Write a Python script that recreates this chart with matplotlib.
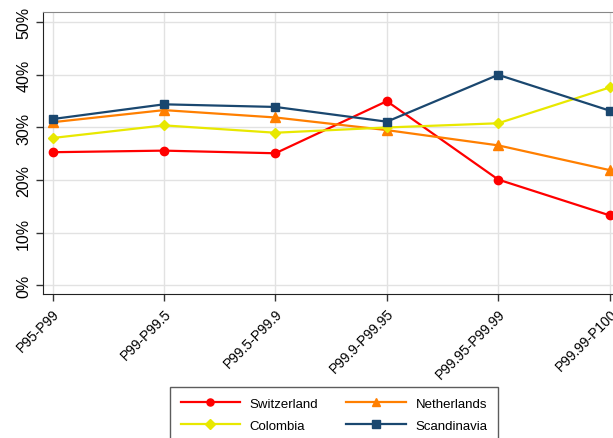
import matplotlib
matplotlib.use('Agg')
from matplotlib import pyplot as plt
from matplotlib.ticker import FuncFormatter

# top income groups
groups = ['P95-P99', 'P99-P99.5', 'P99.5-P99.9', 'P99.9-P99.95',
          'P99.95-P99.99', 'P99.99-P100']

# share (%) per country
switzerland = [25.3, 25.6, 25.1, 35.0, 20.1, 13.3]
netherlands = [31.0, 33.3, 31.9, 29.5, 26.6, 21.9]
colombia = [28.0, 30.4, 29.0, 30.0, 30.8, 37.6]
scandinavia = [31.6, 34.4, 33.9, 31.1, 40.0, 33.2]

plt.rcParams['font.family'] = ['Liberation Sans', 'DejaVu Sans']

fig = plt.figure(figsize=(6.13, 4.39), dpi=100)
ax = fig.add_axes([0.0701, 0.3273, 0.9299, 0.6438])

x = list(range(len(groups)))
l_sw, = ax.plot(x, switzerland, color='#ff0000', marker='o', ms=6, lw=1.6,
                label='Switzerland')
l_nl, = ax.plot(x, netherlands, color='#ff7f00', marker='^', ms=6.5, lw=1.6,
                label='Netherlands')
l_co, = ax.plot(x, colombia, color='#e8e800', marker='D', ms=5.5, lw=1.6,
                label='Colombia')
l_sc, = ax.plot(x, scandinavia, color='#1a476f', marker='s', ms=6, lw=1.6,
                label='Scandinavia')

ax.set_xlim(-0.086, 5.03)
ax.set_ylim(-1.7, 52.0)
ax.set_yticks([0, 10, 20, 30, 40, 50])
ax.yaxis.set_major_formatter(FuncFormatter(lambda v, p: f'{v:.0f}%'))
ax.set_xticks(x)
ax.set_xticklabels(groups, rotation=45, ha='right', rotation_mode='anchor',
                   fontsize=10)
for lab in ax.get_yticklabels():
    lab.set_rotation(90)
    lab.set_va('center')
    lab.set_fontsize(11.5)

ax.grid(True, color='#e2e2e2', lw=1)
ax.set_axisbelow(True)
ax.tick_params(direction='out', length=5, width=1, color='#333333')
ax.spines['top'].set_color('#888888')
ax.spines['right'].set_visible(False)
ax.spines['left'].set_color('#222222')
ax.spines['bottom'].set_color('#222222')

# matplotlib fills legend columns first, so order for row-wise reading
leg = fig.legend(handles=[l_sw, l_co, l_nl, l_sc],
                 labels=['Switzerland', 'Colombia', 'Netherlands', 'Scandinavia'],
                 ncol=2, loc='upper left',
                 bbox_to_anchor=(170 / 613, 1 - 388 / 439),
                 borderaxespad=0, numpoints=1, markerscale=0.85,
                 fontsize=9.5, handlelength=4.5, handletextpad=0.75,
                 columnspacing=2.1, fancybox=False, edgecolor='#333333',
                 borderpad=0.8, labelspacing=0.75)
leg.get_frame().set_linewidth(1)

fig.savefig('out.png', dpi=100)
